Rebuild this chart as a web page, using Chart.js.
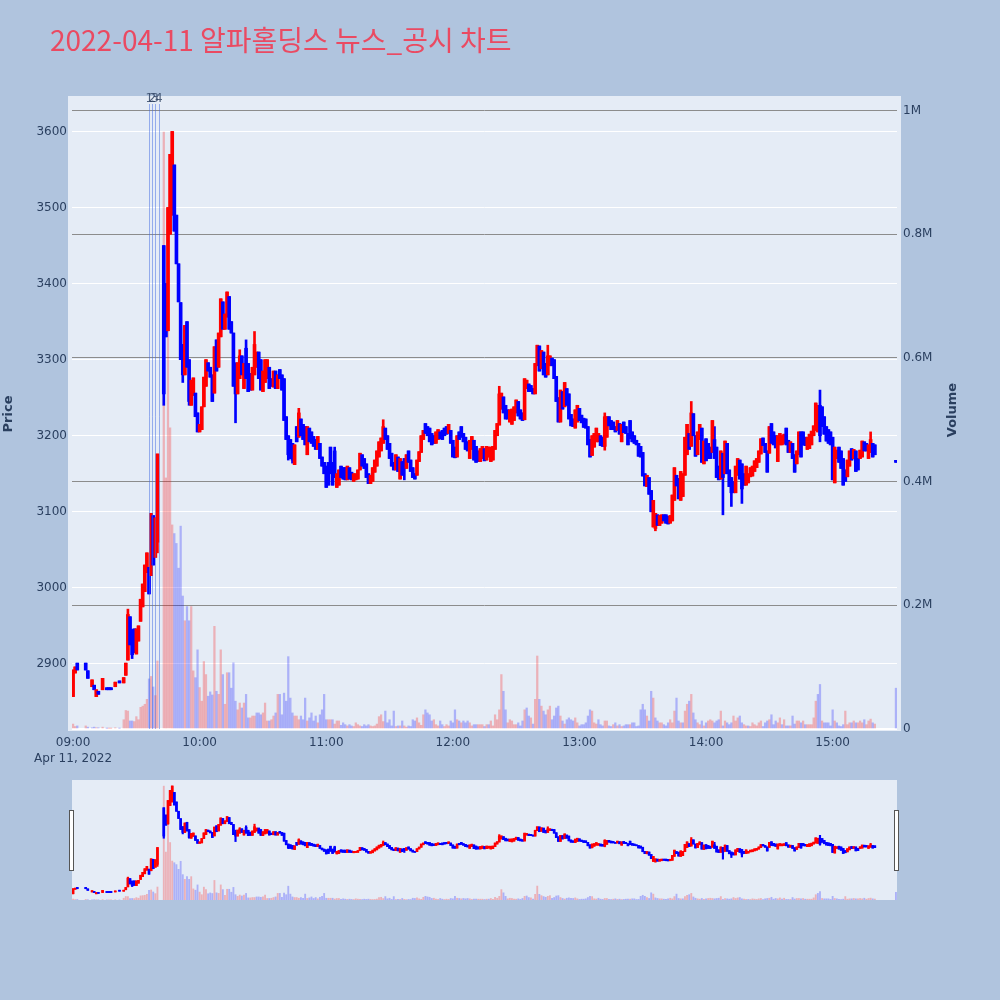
<!DOCTYPE html>
<html>
<head>
<meta charset="utf-8">
<script src="https://cdn.jsdelivr.net/npm/chart.js@4.4.1/dist/chart.umd.min.js"></script>
<style>
  html, body { margin: 0; padding: 0; background: #B0C4DE; }
  #wrap { position: relative; width: 1000px; height: 1000px; overflow: hidden; }
  canvas { position: absolute; left: 0; }
  #main { top: 0; }
  #slider { top: 770px; }
</style>
</head>
<body>
<div id="wrap">
  <canvas id="main" width="1000" height="770"></canvas>
  <canvas id="slider" width="1000" height="230"></canvas>
</div>
<script>
// 텍스트
const chartTitle = '2022-04-11 알파홀딩스 뉴스_공시 차트';
const priceTitle = 'Price';
const volumeTitle = 'Volume';
const dateLabel = 'Apr 11, 2022';

// 축 눈금
const hourTicks = [0, 60, 120, 180, 240, 300, 360];          // 09:00 기준 분
const hourLabels = ['09:00', '10:00', '11:00', '12:00', '13:00', '14:00', '15:00'];
const priceTicks = [2900, 3000, 3100, 3200, 3300, 3400, 3500, 3600];
const volumeTicksK = [0, 200, 400, 600, 800, 1000];
const volumeTickLabels = ['0', '0.2M', '0.4M', '0.6M', '0.8M', '1M'];

// 뉴스/공시 시점 (09:00 기준 분)
const newsMinutes = [36.2, 37.6, 38.9, 40.7];
const newsLabels = ['1', '2', '3', '4'];

// 1분봉 시가 (index = 09:00 이후 분, null = 거래 없음)
const opens = [
  2857, 2888, 2901, null, null, null, 2901, 2891, null, 2870,
  2872, 2857, 2864, null, 2866, null, 2866, 2866, 2866, null,
  2870, null, 2876, null, 2875, 2885, 2905, 2962, 2945, 2946,
  2913, 2930, 2956, 2975, 2995, 3020, 3027, 3016, 3095, 3040,
  3060, null, null, 3450, 3400, 3338, 3465, 3490, 3556, 3490,
  3426, 3375, 3320, 3280, 3350, 3300, 3240, 3253, 3256, 3230,
  3205, 3208, 3238, 3265, 3296, 3290, 3280, 3256, 3326, 3290,
  3330, 3376, 3340, 3356, 3383, 3350, 3335, 3280, 3255, 3275,
  3305, 3262, 3315, 3295, 3282, 3260, 3280, 3290, 3310, 3300,
  3258, 3270, 3275, 3290, 3275, 3264, 3285, 3262, 3287, 3280,
  3275, 3225, 3200, 3195, 3190, 3162, 3212, 3198, 3222, 3215,
  3212, 3175, 3210, 3205, 3199, 3195, 3182, 3190, 3172, 3165,
  3160, 3165, 3185, 3165, 3180, 3132, 3135, 3160, 3158, 3158,
  3142, 3158, 3152, 3140, 3142, 3143, 3155, 3175, 3170, 3163,
  3150, 3137, 3140, 3152, 3160, 3172, 3180, 3190, 3210, 3200,
  3190, 3177, 3165, 3155, 3172, 3143, 3166, 3170, 3157, 3180,
  3168, 3158, 3150, 3148, 3166, 3178, 3195, 3216, 3212, 3210,
  3203, 3200, 3190, 3195, 3205, 3207, 3210, 3212, 3203, 3207,
  3194, 3185, 3172, 3205, 3212, 3203, 3198, 3192, 3170, 3182,
  3194, 3186, 3180, 3166, 3170, 3183, 3168, 3172, 3166, 3168,
  3182, 3200, 3214, 3235, 3251, 3240, 3234, 3218, 3215, 3220,
  3230, 3245, 3234, 3230, 3221, 3262, 3268, 3266, 3262, 3255,
  3292, 3318, 3288, 3310, 3295, 3280, 3292, 3302, 3300, 3278,
  3250, 3218, 3258, 3238, 3262, 3255, 3228, 3222, 3210, 3218,
  3236, 3227, 3223, 3222, 3212, 3195, 3174, 3185, 3192, 3192,
  3200, 3198, 3186, 3198, 3225, 3220, 3218, 3212, 3207, 3216,
  3192, 3218, 3212, 3203, 3220, 3205, 3200, 3194, 3190, 3186,
  3178, 3150, 3133, 3145, 3128, 3080, 3078, 3096, 3082, 3085,
  3096, 3096, 3094, 3085, 3088, 3115, 3148, 3144, 3115, 3120,
  3148, 3175, 3203, 3186, 3229, 3200, 3175, 3195, 3210, 3163,
  3196, 3190, 3185, 3178, 3195, 3185, 3160, 3143, 3177, 3150,
  3190, 3155, 3145, 3140, 3125, 3148, 3168, 3163, 3150, 3135,
  3138, 3146, 3147, 3153, 3158, 3165, 3176, 3197, 3190, 3180,
  3177, 3216, 3205, 3200, 3166, 3188, 3188, 3190, 3210, 3194,
  3178, 3190, 3175, 3163, 3175, 3205, 3205, 3198, 3182, 3183,
  3188, 3200, 3207, 3205, 3240, 3238, 3225, 3212, 3208, 3205,
  3198, 3138, 3170, 3185, 3180, 3170, 3155, 3146, 3160, 3183,
  3170, 3180, 3170, 3170, 3172, 3192, 3190, 3170, 3178, 3190,
  3188, null, null, null, null, null, null, null, null, null,
  3165
];

// 1분봉 종가
const closes = [
  2892, 2896, 2892, null, null, null, 2892, 2881, null, 2879,
  2866, 2866, 2860, null, 2881, null, 2866, 2866, 2866, null,
  2876, null, 2875, null, 2882, 2901, 2965, 2925, 2912, 2915,
  2946, 2950, 2985, 3005, 3030, 3046, 2992, 3098, 3030, 3092,
  3176, null, null, 3255, 3330, 3500, 3570, 3600, 3469, 3426,
  3376, 3300, 3280, 3345, 3290, 3245, 3273, 3276, 3225, 3205,
  3215, 3238, 3277, 3300, 3285, 3277, 3245, 3317, 3285, 3335,
  3380, 3340, 3360, 3389, 3340, 3335, 3265, 3255, 3296, 3305,
  3280, 3295, 3275, 3258, 3260, 3290, 3320, 3310, 3275, 3260,
  3285, 3300, 3300, 3262, 3265, 3285, 3262, 3280, 3275, 3260,
  3220, 3195, 3175, 3170, 3168, 3188, 3192, 3230, 3200, 3195,
  3188, 3212, 3192, 3190, 3186, 3182, 3199, 3170, 3160, 3150,
  3132, 3135, 3150, 3135, 3145, 3150, 3155, 3145, 3143, 3142,
  3160, 3143, 3142, 3150, 3150, 3155, 3177, 3160, 3157, 3145,
  3137, 3148, 3158, 3168, 3180, 3192, 3197, 3212, 3195, 3182,
  3170, 3160, 3155, 3175, 3153, 3170, 3148, 3157, 3175, 3165,
  3153, 3145, 3143, 3168, 3179, 3200, 3207, 3203, 3200, 3192,
  3188, 3190, 3205, 3208, 3196, 3195, 3200, 3202, 3215, 3190,
  3172, 3171, 3200, 3195, 3198, 3192, 3182, 3180, 3194, 3199,
  3168, 3165, 3166, 3183, 3186, 3167, 3186, 3185, 3185, 3186,
  3207, 3216, 3255, 3256, 3230, 3222, 3222, 3234, 3235, 3238,
  3247, 3226, 3222, 3220, 3275, 3273, 3258, 3258, 3255, 3295,
  3319, 3285, 3312, 3280, 3277, 3305, 3305, 3292, 3275, 3245,
  3218, 3260, 3235, 3270, 3240, 3222, 3213, 3212, 3234, 3240,
  3220, 3217, 3211, 3210, 3188, 3172, 3200, 3203, 3210, 3203,
  3187, 3186, 3225, 3225, 3213, 3208, 3208, 3205, 3220, 3202,
  3215, 3204, 3203, 3188, 3196, 3192, 3190, 3188, 3173, 3172,
  3147, 3134, 3148, 3123, 3100, 3115, 3098, 3082, 3095, 3096,
  3088, 3085, 3084, 3095, 3122, 3158, 3134, 3117, 3153, 3150,
  3198, 3215, 3182, 3230, 3200, 3173, 3205, 3215, 3165, 3193,
  3167, 3170, 3170, 3220, 3170, 3145, 3142, 3180, 3145, 3193,
  3150, 3133, 3125, 3125, 3160, 3170, 3143, 3130, 3135, 3160,
  3150, 3158, 3160, 3167, 3170, 3180, 3196, 3187, 3178, 3152,
  3212, 3190, 3188, 3184, 3200, 3203, 3200, 3202, 3188, 3178,
  3192, 3170, 3152, 3180, 3205, 3172, 3188, 3187, 3198, 3202,
  3206, 3213, 3243, 3240, 3200, 3212, 3202, 3193, 3190, 3188,
  3142, 3185, 3181, 3165, 3157, 3135, 3140, 3168, 3180, 3168,
  3182, 3153, 3155, 3181, 3193, 3180, 3180, 3188, 3195, 3172,
  3175, null, null, null, null, null, null, null, null, null,
  3165
];

// 꼬리가 몸통 밖으로 보이는 봉 (분, 고가, 저가; null = 몸통과 같음)
const wickMinutes = [26, 28, 40, 43, 52, 55, 77, 79, 82, 86, 102, 104, 107, 124, 147, 157, 202, 225, 252, 276, 293, 304, 308, 312, 317, 354, 378];
const wickHighs = [2972, null, null, null, null, null, 3296, 3313, 3326, 3337, null, null, 3236, 3185, 3221, null, 3265, 3319, 3230, null, 3245, 3212, null, null, null, 3260, 3205];
const wickLows = [null, 2907, 3046, 3240, 3270, 3240, 3217, null, null, null, 3168, 3164, null, null, null, 3142, null, null, 3181, 3075, null, null, 3096, 3107, 3111, 3192, null];

// 분당 거래량 (천 주)
const volumesK = [
  8, 4, 5, null, null, null, 5, 3, null, 2,
  3, 2, 2, null, 3, null, 1, 1, 1, null,
  2, null, 1, null, 15, 30, 29, 13, 13, 12,
  20, 15, 35, 37, 40, 48, 81, 85, 68, 54,
  110, null, null, 965, 406, 644, 487, 330, 316, 300,
  260, 328, 215, 175, 198, 175, 198, 94, 83, 128,
  67, 45, 109, 88, 53, 60, 55, 166, 61, 56,
  128, 88, 40, 91, 91, 66, 107, 45, 31, 42,
  34, 42, 56, 18, 18, 21, 21, 26, 26, 23,
  26, 42, 13, 13, 15, 21, 26, 56, 56, 23,
  58, 45, 117, 50, 26, 21, 21, 15, 21, 15,
  50, 13, 18, 26, 13, 21, 10, 23, 31, 56,
  15, 15, 15, 15, 8, 13, 13, 6, 10, 7,
  5, 7, 5, 4, 10, 7, 5, 4, 7, 5,
  7, 5, 4, 5, 8, 20, 23, 12, 29, 10,
  15, 5, 29, 4, 5, 5, 13, 5, 3, 5,
  4, 15, 13, 18, 10, 6, 23, 31, 26, 23,
  13, 15, 7, 5, 13, 7, 4, 7, 5, 13,
  10, 31, 15, 13, 10, 13, 10, 13, 10, 5,
  7, 7, 7, 7, 7, 4, 7, 7, 13, 5,
  23, 15, 31, 88, 61, 31, 10, 15, 13, 7,
  7, 10, 5, 13, 31, 34, 21, 18, 8, 48,
  118, 48, 37, 29, 23, 31, 37, 15, 21, 34,
  37, 21, 13, 8, 15, 18, 15, 13, 18, 10,
  5, 7, 7, 10, 21, 31, 29, 10, 8, 15,
  7, 5, 13, 13, 5, 4, 7, 10, 5, 7,
  4, 5, 7, 7, 7, 10, 10, 4, 5, 31,
  40, 31, 21, 13, 61, 50, 18, 13, 10, 10,
  7, 5, 10, 15, 10, 29, 50, 13, 10, 10,
  29, 40, 45, 56, 26, 15, 10, 7, 13, 5,
  10, 13, 15, 13, 10, 13, 15, 29, 5, 13,
  10, 7, 10, 21, 13, 18, 21, 10, 7, 5,
  5, 4, 10, 7, 5, 10, 13, 4, 10, 13,
  15, 23, 7, 13, 10, 18, 7, 15, 5, 5,
  5, 21, 8, 13, 13, 10, 13, 7, 7, 7,
  7, 18, 45, 56, 72, 13, 10, 10, 10, 5,
  31, 13, 10, 5, 4, 7, 29, 7, 10, 10,
  13, 10, 10, 13, 10, 15, 7, 13, 16, 10,
  8, null, null, null, null, null, null, null, null, null,
  66
];

// 스타일
const FONT = '"DejaVu Sans", Verdana, sans-serif';
const TICK_COLOR = '#2a3f5f';
const UP = '#ff0000';
const DOWN = '#0000ff';
const VOL_UP = 'rgba(255, 0, 0, 0.25)';
const VOL_DOWN = 'rgba(0, 0, 255, 0.25)';

// 축 범위
const X_MIN = -0.5, X_MAX = 390.5;
const P_MIN = 2814.4, P_MAX = 3641.4;
const V_MAX = 1017;

// 봉/거래량 행 만들기
const candleRows = [];
const volRows = [];
let prevClose = null;
for (let m = 0; m < opens.length; m++) {
    if (opens[m] === null) continue;
    const o = opens[m], c = closes[m];
    let hi = Math.max(o, c), lo = Math.min(o, c);
    const k = wickMinutes.indexOf(m);
    if (k >= 0) {
        if (wickHighs[k] !== null) hi = wickHighs[k];
        if (wickLows[k] !== null) lo = wickLows[k];
    }
    candleRows.push({ m, o, c, hi, lo, up: c > o });
    if (volumesK[m] !== null) {
        volRows.push({ m, v: volumesK[m], up: prevClose === null || c >= prevClose });
    }
    prevClose = c;
}

function candleDatasets(bodyW, wickW, volW, minBody) {
    return [
        {
            label: 'Volume', yAxisID: 'yv', order: 3, grouped: false,
            data: volRows.map(r => ({ x: r.m, y: r.v })),
            backgroundColor: volRows.map(r => r.up ? VOL_UP : VOL_DOWN),
            barThickness: volW
        },
        {
            label: 'Range', yAxisID: 'y', order: 2, grouped: false,
            data: candleRows.map(r => ({ x: r.m, y: [r.lo, r.hi] })),
            backgroundColor: candleRows.map(r => r.up ? UP : DOWN),
            barThickness: wickW, minBarLength: minBody
        },
        {
            label: 'Body', yAxisID: 'y', order: 1, grouped: false,
            data: candleRows.map(r => ({ x: r.m, y: [r.o, r.c] })),
            backgroundColor: candleRows.map(r => r.up ? UP : DOWN),
            barThickness: bodyW, minBarLength: minBody
        }
    ];
}

// 플롯 배경
const plotBg = {
    id: 'plotBg',
    beforeDraw(chart, args, opts) {
        const c = chart.ctx;
        c.save();
        c.fillStyle = opts.color;
        c.fillRect(opts.x0, opts.y0, opts.x1 - opts.x0, opts.y1 - opts.y0);
        c.restore();
    }
};

// 뉴스 선, 제목, 축 제목
const overlay = {
    id: 'overlay',
    afterDatasetsDraw(chart) {
        const c = chart.ctx;
        const xs = chart.scales.x;
        c.save();
        c.strokeStyle = 'rgba(65, 105, 225, 0.5)';
        c.lineWidth = 1;
        newsMinutes.forEach(m => {
            const px = Math.round(xs.getPixelForValue(m)) + 0.5;
            c.beginPath();
            c.moveTo(px, 104);
            c.lineTo(px, chart.chartArea.bottom);
            c.stroke();
        });
        c.font = '12px ' + FONT;
        c.fillStyle = 'rgba(42, 63, 95, 0.8)';
        c.textAlign = 'center';
        c.textBaseline = 'alphabetic';
        newsMinutes.forEach((m, i) => {
            c.fillText(newsLabels[i], xs.getPixelForValue(m), 102);
        });
        c.restore();
    },
    afterDraw(chart) {
        const c = chart.ctx;
        c.save();
        c.font = '28px "Noto Sans CJK KR", sans-serif';
        c.fillStyle = '#EA4A62';
        c.textAlign = 'left';
        c.textBaseline = 'alphabetic';
        c.fillText(chartTitle, 50, 51);

        c.font = 'bold 13px ' + FONT;
        c.fillStyle = TICK_COLOR;
        c.textAlign = 'center';
        c.textBaseline = 'middle';
        c.translate(9, 414);
        c.rotate(-Math.PI / 2);
        c.fillText(priceTitle, 0, 0);
        c.restore();

        c.save();
        c.font = 'bold 13px ' + FONT;
        c.fillStyle = TICK_COLOR;
        c.textAlign = 'center';
        c.textBaseline = 'middle';
        c.translate(953, 410);
        c.rotate(-Math.PI / 2);
        c.fillText(volumeTitle, 0, 0);
        c.restore();
    }
};

// 범위 슬라이더 손잡이
const sliderHandles = {
    id: 'sliderHandles',
    afterDraw(chart) {
        const c = chart.ctx;
        const a = chart.chartArea;
        c.save();
        c.fillStyle = '#ffffff';
        c.strokeStyle = '#555555';
        c.lineWidth = 1;
        [a.left, a.right].forEach(x => {
            c.fillRect(Math.round(x) - 2.5, 40.5, 4, 60);
            c.strokeRect(Math.round(x) - 2.5, 40.5, 4, 60);
        });
        c.restore();
    }
};

const tickFont = { family: FONT, size: 12 };

new Chart(document.getElementById('main'), {
    type: 'bar',
    data: { datasets: candleDatasets(3, 2, 1.6, 2) },
    options: {
        responsive: false,
        animation: false,
        events: [],
        devicePixelRatio: 1,
        layout: { padding: { top: 100, left: 0, right: 0, bottom: 0 } },
        plugins: {
            legend: { display: false },
            tooltip: { enabled: false },
            plotBg: { x0: 68, y0: 96, x1: 901, y1: 731, color: '#E5ECF6' }
        },
        scales: {
            x: {
                type: 'linear', min: X_MIN, max: X_MAX, offset: false,
                grid: { display: false },
                border: { display: false },
                afterBuildTicks: s => { s.ticks = hourTicks.map(v => ({ value: v })); },
                afterFit: s => { s.height = 41; },
                ticks: {
                    autoSkip: false, maxRotation: 0, padding: -2,
                    color: TICK_COLOR, font: { family: FONT, size: 12, lineHeight: 1.35 },
                    callback: v => {
                        const i = hourTicks.indexOf(v);
                        return i === 0 ? [hourLabels[0], dateLabel] : hourLabels[i];
                    }
                }
            },
            y: {
                position: 'left', min: P_MIN, max: P_MAX,
                grid: { color: '#ffffff', lineWidth: 1, drawTicks: false },
                border: { display: false },
                afterBuildTicks: s => { s.ticks = priceTicks.map(v => ({ value: v })); },
                afterFit: s => { s.width = 72; },
                ticks: { padding: 5, color: TICK_COLOR, font: tickFont, callback: v => String(v) }
            },
            yv: {
                position: 'right', min: 0, max: V_MAX,
                grid: {
                    color: ctx => ctx.tick && ctx.tick.value === 0 ? '#ffffff' : '#8c8c8c',
                    lineWidth: ctx => ctx.tick && ctx.tick.value === 0 ? 2 : 1,
                    drawTicks: false
                },
                border: { display: false },
                afterBuildTicks: s => { s.ticks = volumeTicksK.map(v => ({ value: v })); },
                afterFit: s => { s.width = 103; },
                ticks: {
                    padding: 6, color: TICK_COLOR, font: tickFont,
                    callback: v => volumeTickLabels[volumeTicksK.indexOf(v)]
                }
            }
        }
    },
    plugins: [plotBg, overlay]
});

new Chart(document.getElementById('slider'), {
    type: 'bar',
    data: { datasets: candleDatasets(2, 1.5, 1.2, 1) },
    options: {
        responsive: false,
        animation: false,
        events: [],
        devicePixelRatio: 1,
        layout: { padding: { top: 10, bottom: 100, left: 72, right: 103 } },
        plugins: {
            legend: { display: false },
            tooltip: { enabled: false },
            plotBg: { x0: 72, y0: 10, x1: 897, y1: 130, color: '#E5ECF6' }
        },
        scales: {
            x: { type: 'linear', display: false, min: X_MIN, max: X_MAX, offset: false },
            y: { display: false, min: P_MIN, max: P_MAX },
            yv: { display: false, min: 0, max: V_MAX }
        }
    },
    plugins: [plotBg, sliderHandles]
});
</script>
</body>
</html>
